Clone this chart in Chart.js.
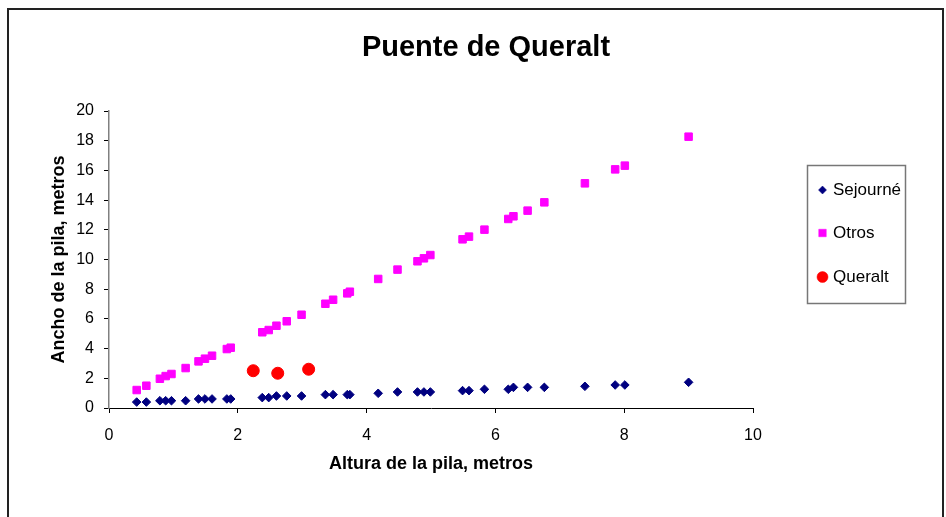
<!DOCTYPE html>
<html>
<head>
<meta charset="utf-8">
<script src="https://cdn.jsdelivr.net/npm/chart.js@4/dist/chart.umd.min.js"></script>
<style>
html,body{margin:0;padding:0;background:#fff;}
#wrap{width:946px;height:517px;position:relative;}
</style>
</head>
<body>
<div id="wrap"><canvas id="c" width="946" height="517"></canvas></div>
<script>
const chartTitle = "Puente de Queralt";
const xAxisTitle = "Altura de la pila, metros";
const yAxisTitle = "Ancho de la pila, metros";
const seriesNames = ["Sejourné", "Otros", "Queralt"];

const pierHeights = [0.43,0.58,0.79,0.88,0.97,1.19,1.39,1.49,1.60,1.83,1.89,2.38,2.48,2.60,2.76,2.99,3.36,3.48,3.70,3.74,4.18,4.48,4.79,4.89,4.99,5.49,5.59,5.83,6.20,6.28,6.50,6.76,7.39,7.86,8.01,9.00];
const sejourneWidths = [0.40,0.40,0.49,0.49,0.49,0.49,0.61,0.61,0.61,0.61,0.61,0.70,0.70,0.81,0.81,0.81,0.90,0.90,0.90,0.90,0.99,1.08,1.08,1.08,1.08,1.17,1.17,1.26,1.26,1.39,1.39,1.39,1.46,1.55,1.55,1.73];
const otrosWidths = [1.21,1.50,1.97,2.15,2.29,2.69,3.14,3.32,3.52,3.97,4.06,5.10,5.25,5.54,5.84,6.28,7.02,7.29,7.72,7.83,8.69,9.32,9.88,10.08,10.30,11.36,11.54,12.01,12.73,12.91,13.29,13.85,15.13,16.07,16.32,18.27];
const queraltHeights = [2.24,2.62,3.10];
const queraltWidths = [2.51,2.34,2.61];

const xTicks = [0,2,4,6,8,10];
const yTicks = [0,2,4,6,8,10,12,14,16,18,20];

const colors = ["#000080", "#FF00FF", "#FF0000"];
const FONT = "'Liberation Sans', Arial, sans-serif";

function pts(xs, ys){ return xs.map((x,i)=>({x:x, y:ys[i]})); }

const framePlugin = {
  id: 'frameAndExtras',
  beforeDraw(chart){
    const ctx = chart.ctx;
    ctx.save();
    ctx.fillStyle = '#fff';
    ctx.fillRect(0,0,chart.width,chart.height);
    ctx.restore();
  },
  afterDraw(chart){
    const ctx = chart.ctx;
    ctx.save();
    // outer frame
    ctx.strokeStyle = '#222';
    ctx.lineWidth = 2;
    ctx.strokeRect(8, 9, 935, 520);
    // title
    ctx.fillStyle = '#000';
    ctx.font = "bold 29px " + FONT;
    ctx.textAlign = 'center';
    ctx.textBaseline = 'alphabetic';
    ctx.fillText(chartTitle, 486, 56);
    // legend box
    ctx.strokeStyle = '#777';
    ctx.lineWidth = 1.5;
    ctx.strokeRect(807.5, 165.5, 98, 138);
    const rows = [190, 233, 277];
    const styles = ['rectRot','rect','circle'];
    const radii = [4, 5.3, 5.5];
    ctx.font = "17px " + FONT;
    ctx.textAlign = 'left';
    ctx.textBaseline = 'middle';
    chart.data.datasets.forEach((ds, i) => {
      ctx.fillStyle = ds.backgroundColor;
      ctx.strokeStyle = ds.borderColor;
      ctx.lineWidth = 0.5;
      Chart.helpers.drawPoint(ctx, {pointStyle: styles[i], radius: radii[i], borderWidth: 0.5, rotation: 0}, 822.5, rows[i]);
      ctx.fillStyle = '#000';
      ctx.fillText(ds.label, 833, rows[i]);
    });
    ctx.restore();
  }
};

new Chart(document.getElementById('c'), {
  type: 'scatter',
  data: {
    datasets: [
      { label: seriesNames[0], data: pts(pierHeights, sejourneWidths), pointStyle: 'rectRot', pointRadius: 4.3, pointHoverRadius: 4.3, backgroundColor: colors[0], borderColor: colors[0], borderWidth: 1 },
      { label: seriesNames[1], data: pts(pierHeights, otrosWidths), pointStyle: 'rect', pointRadius: 5.3, pointHoverRadius: 5.3, backgroundColor: colors[1], borderColor: colors[1], borderWidth: 1 },
      { label: seriesNames[2], data: pts(queraltHeights, queraltWidths), pointStyle: 'circle', pointRadius: 6, pointHoverRadius: 6, backgroundColor: colors[2], borderColor: colors[2], borderWidth: 1 }
    ]
  },
  options: {
    responsive: false,
    animation: false,
    events: [],
    layout: { padding: { left: 0, top: 111, right: 193, bottom: 0 } },
    plugins: { legend: { display: false }, title: { display: false }, tooltip: { enabled: false } },
    scales: {
      x: {
        type: 'linear', min: 0, max: 10,
        afterBuildTicks(scale){ scale.ticks = xTicks.map(v => ({value: v})); },
        afterFit(scale){ scale.height = 109; },
        grid: { drawOnChartArea: false, drawTicks: true, tickLength: 5, tickColor: '#000', tickWidth: 1 },
        border: { display: true, color: '#000', width: 1 },
        ticks: { color: '#000', font: { family: FONT, size: 16 }, padding: 13, maxRotation: 0 },
        title: { display: true, text: xAxisTitle, color: '#000', font: { family: FONT, size: 18, weight: 'bold' }, padding: { top: 0, bottom: 42 } }
      },
      y: {
        type: 'linear', min: 0, max: 20,
        afterBuildTicks(scale){ scale.ticks = yTicks.map(v => ({value: v})); },
        afterFit(scale){ scale.width = 109; },
        grid: { drawOnChartArea: false, drawTicks: true, tickLength: 5, tickColor: '#000', tickWidth: 1 },
        border: { display: true, color: '#808080', width: 1.5 },
        ticks: { color: '#000', font: { family: FONT, size: 16 }, padding: 10 },
        title: { display: true, text: yAxisTitle, color: '#000', font: { family: FONT, size: 18, weight: 'bold' }, padding: { top: 48, bottom: 0 } }
      }
    }
  },
  plugins: [framePlugin]
});
</script>
</body>
</html>
